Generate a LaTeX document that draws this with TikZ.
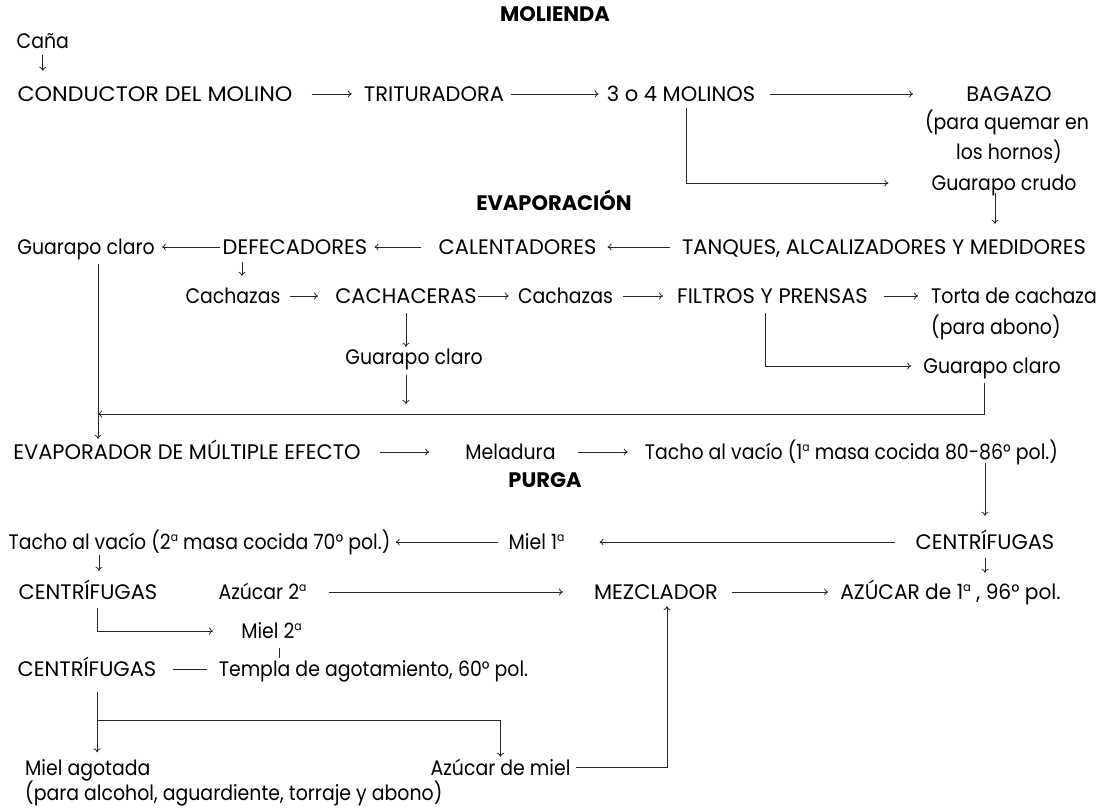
\documentclass[tikz,border=0pt]{standalone}
\usepackage{fontspec}
\setmainfont{Poppins}
\newfontfamily\mixfont[FakeStretch=0.9]{Poppins}
\newfontfamily\midfont[FakeStretch=0.96]{Poppins}
\newfontfamily\widefont[FakeStretch=1.06]{Poppins}
\newcommand\supa{\raisebox{8pt}{\fontsize{12}{12}\selectfont a}}
\usetikzlibrary{arrows.meta}
\tikzset{
  lbl/.style={inner sep=0pt, text height=17pt, text depth=2pt, anchor=center,
    font=\fontsize{21}{29}\selectfont},
  mix/.style={lbl, font=\fontsize{21}{29}\mixfont},
  mixw/.style={mix, anchor=west},
  ttl/.style={lbl, font=\fontsize{21}{29}\selectfont\bfseries},
  conn/.style={line width=0.8pt, draw=black!85},
  arr/.style={conn, -{To[length=4pt,width=7pt]}},
}
\begin{document}
\begin{tikzpicture}[x=1pt,y=-1pt]
\useasboundingbox (0,0) rectangle (1100,807);
% titles
\node[ttl] (molienda) at (555,14) {MOLIENDA};
\node[ttl] (evapt) at (554,203) {EVAPORACIÓN};
\node[ttl] (purga) at (545,480) {PURGA};
% molienda
\node[mix] (cana) at (42.8,41) {Caña};
\node[lbl, font=\fontsize{21}{29}\widefont] (cond) at (155,94) {CONDUCTOR DEL MOLINO};
\node[lbl] (trit) at (434,94) {TRITURADORA};
\node[lbl] (mol) at (681,94) {3 o 4 MOLINOS};
\node[lbl] (bagazo) at (1009,94) {BAGAZO};
\node[mix] (bagnoteA) at (1007,122) {(para quemar en};
\node[mix] (bagnoteB) at (1009,152) {los hornos)};
\node[mix] (gcrudo) at (1004,183) {Guarapo crudo};
% evaporacion
\node[lbl] (tanques) at (884,247) {TANQUES, ALCALIZADORES Y MEDIDORES};
\node[lbl] (calent) at (517.5,247) {CALENTADORES};
\node[lbl] (defec) at (295,247) {DEFECADORES};
\node[mix] (gclaro1) at (86,247) {Guarapo claro};
\node[mix] (cach1) at (233,296) {Cachazas};
\node[lbl] (cachac) at (406,296) {CACHACERAS};
\node[mix] (cach2) at (565.5,296) {Cachazas};
\node[lbl] (filtros) at (772.5,296) {FILTROS Y PRENSAS};
\node[mixw] (torta1) at (931,296) {Torta de cachaza};
\node[mixw] (torta2) at (931,327) {(para abono)};
\node[mix] (gclaro2) at (414,357) {Guarapo claro};
\node[mix] (gclaro3) at (992,366) {Guarapo claro};
\node[lbl] (evap) at (187,452) {EVAPORADOR DE MÚLTIPLE EFECTO};
\node[mix] (melad) at (510.5,452) {Meladura};
\node[mix] (tacho1) at (851.5,452) {Tacho al vacío (1\supa\ masa cocida 80-86° pol.)};
% purga
\node[lbl] (centr1) at (985,542) {CENTRÍFUGAS};
\node[mix] (miel1) at (536.5,542) {Miel 1\supa};
\node[mix] (tacho2) at (199.5,542) {Tacho al vacío (2\supa\ masa cocida 70° pol.)};
\node[lbl] (centr2) at (88,592) {CENTRÍFUGAS};
\node[mix] (az2) at (262.5,592) {Azúcar 2\supa};
\node[lbl] (mezcl) at (656,592) {MEZCLADOR};
\node[lbl, font=\fontsize{21}{29}\midfont] (azucar1) at (950.5,592) {AZÚCAR de 1\supa\ , 96° pol.};
\node[mix] (miel2) at (271.5,631) {Miel 2\supa};
\node[lbl] (centr3) at (87,669) {CENTRÍFUGAS};
\node[mix] (templa) at (373.5,669) {Templa de agotamiento, 60° pol.};
\node[mixw] (mielag1) at (25,767.5) {Miel agotada};
\node[mixw] (mielag2) at (25,792.5) {(para alcohol, aguardiente, torraje y abono)};
\node[mix] (azmiel) at (500.5,767.5) {Azúcar de miel};
% helper coordinates
\path ([xshift=12pt]gclaro1.south) coordinate (g1x);
\coordinate (retL) at (g1x |- 0,414);
\path ([xshift=10pt]centr3.south) coordinate (c3x);
\coordinate (br) at (c3x |- 0,720);
% connectors molienda
\draw[arr, shorten <=4.5pt, shorten >=13.5pt] (cana.south) -- (cana.south |- cond.north);
\draw[arr, shorten <=19pt, shorten >=12pt] (cond.east) -- (trit.west);
\draw[arr, shorten <=7pt, shorten >=8pt] (trit.east) -- (mol.west);
\draw[arr, shorten <=15pt, shorten >=53pt] (mol.east) -- (bagazo.west);
\draw[arr, shorten <=4.5pt, shorten >=43pt] ([xshift=5pt]mol.south) |- (gcrudo.west);
\draw[arr, shorten >=13.5pt] ([xshift=-9pt]gcrudo.south) -- ([xshift=-9pt]gcrudo.south |- tanques.north);
% evaporacion
\draw[arr, shorten <=12pt, shorten >=11pt] (tanques.west) -- (calent.east);
\draw[arr, shorten <=17pt, shorten >=7pt] (calent.west) -- (defec.east);
\draw[arr, shorten <=3pt, shorten >=7pt] (defec.west) -- (gclaro1.east);
\draw[arr, shorten <=5.5pt, shorten >=10.5pt] ([xshift=9pt]cach1.north |- defec.south) -- ([xshift=9pt]cach1.north);
\draw[arr, shorten <=9pt, shorten >=17pt] (cach1.east) -- (cachac.west);
\draw[arr, shorten <=1pt, shorten >=9pt] (cachac.east) -- (cach2.west);
\draw[arr, shorten <=10pt, shorten >=14pt] (cach2.east) -- (filtros.west);
\draw[arr, shorten <=16pt, shorten >=13pt] (filtros.east) -- (torta1.west);
\draw[arr, shorten <=7.5pt, shorten >=0.5pt] (cachac.south) -- (cachac.south |- gclaro2.north);
\draw[arr, shorten <=8.5pt, shorten >=10pt] (cachac.south |- gclaro2.south) -- (cachac.south |- retL);
\draw[arr, shorten <=7.5pt, shorten >=12pt] ([xshift=-7.5pt]filtros.south) |- (gclaro3.west);
\draw[arr, shorten <=7.5pt] ([xshift=-8pt]gclaro3.south) |- (retL);
\draw[arr, shorten <=7.5pt, shorten >=3.5pt] (g1x) -- (g1x |- evap.north);
\draw[arr, shorten <=19pt, shorten >=36pt] (evap.east) -- (melad.west);
\draw[arr, shorten <=22pt, shorten >=17pt] (melad.east) -- (tacho1.west);
% purga
\draw[arr, shorten <=1.5pt, shorten >=16.5pt] (centr1.north |- tacho1.south) -- (centr1.north);
\draw[arr, shorten <=21pt, shorten >=35pt] (centr1.west) -- (miel1.east);
\draw[arr, shorten <=10pt, shorten >=5pt] (miel1.west) -- (tacho2.east);
\draw[arr, shorten <=3.5pt, shorten >=11.5pt] ([xshift=11pt]centr2.north |- tacho2.south) -- ([xshift=11pt]centr2.north);
\draw[arr, shorten <=6.5pt, shorten >=9.5pt] (centr1.south) -- (centr1.south |- azucar1.north);
\draw[arr, shorten <=22pt, shorten >=31pt] (az2.east) -- (mezcl.west);
\draw[arr, shorten <=14pt, shorten >=12pt] (mezcl.east) -- (azucar1.west);
\draw[arr, shorten <=6.5pt, shorten >=28pt] ([xshift=9pt]centr2.south) |- (miel2.west);
\draw[conn, shorten <=7.5pt, shorten >=1.5pt] ([xshift=7.5pt]miel2.south) -- ([xshift=7.5pt]miel2.south |- templa.north);
\draw[conn, shorten <=16pt, shorten >=12pt] (centr3.east) -- (templa.west);
\draw[arr, shorten <=13.5pt, shorten >=5.5pt] (c3x) -- (c3x |- mielag1.north);
\draw[arr, shorten >=1pt] (br) -| (azmiel.north);
\draw[arr, shorten <=5pt, shorten >=4.5pt] (azmiel.east) -| ([xshift=11pt]mezcl.south);
\end{tikzpicture}
\end{document}
